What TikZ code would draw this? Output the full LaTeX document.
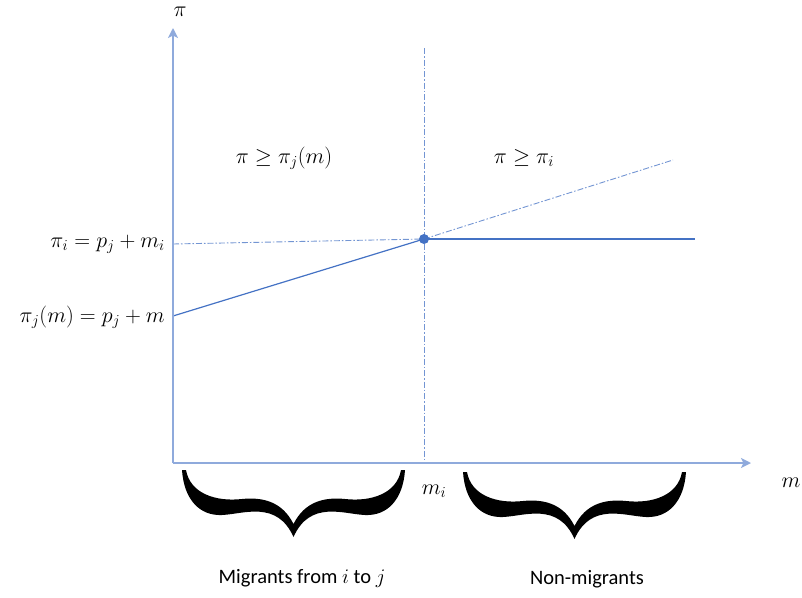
\documentclass[tikz,border=0pt]{standalone}
\usepackage{fontspec}
\setmainfont{Carlito}
\usetikzlibrary{arrows.meta}
\definecolor{axisblue}{HTML}{8FAADC}
\definecolor{lineblue}{HTML}{4472C4}
\tikzset{
  axisline/.style={draw=axisblue, line width=1.8pt, -{Stealth[length=10pt,width=10pt,inset=2.5pt]}},
  solidline/.style={draw=lineblue, line width=1.2pt},
  dashdotline/.style={draw=lineblue!75, line width=0.9pt, dash pattern=on 6pt off 2pt on 1.5pt off 2pt},
  dotnode/.style={circle, fill=lineblue, inner sep=0pt, minimum size=10pt},
  mathlab/.style={font=\fontsize{20.74}{24}\selectfont, inner sep=1pt, scale=1.06, transform shape},
  textlab/.style={font=\fontsize{20.5}{24}\selectfont, inner sep=1pt},
  bracepic/.pic={
    \fill[black] (0,0) .. controls (2,30) and (18,46) .. (40,45)
      .. controls (62,44) and (95,30) .. (111.5,67)
      .. controls (128,30) and (161,44) .. (183,45)
      .. controls (205,46) and (221,30) .. (223,0)
      -- (219,0)
      .. controls (215,23) and (190,32) .. (163,29)
      .. controls (143,27) and (123,31) .. (111.5,54)
      .. controls (100,31) and (80,27) .. (60,29)
      .. controls (33,32) and (8,23) .. (4,0) -- cycle;
  }
}
\begin{document}
\begin{tikzpicture}[x=1pt, y=-1pt]
\useasboundingbox (0,0) rectangle (802,597);
% coordinates
\coordinate (O) at (173,463);
\coordinate (ytop) at (173,28);
\coordinate (xend) at (751,463);
\coordinate (vtop) at (424,48);
\coordinate (vbot) at (424,463);
\coordinate (Ec) at (424,239);
\coordinate (A) at (173,316);
\coordinate (B) at (173,244);
\coordinate (C) at (695,239);
\coordinate (D) at (673,160);
% lines
\draw[dashdotline] (vtop) -- (vbot);
\draw[dashdotline] (B) -- (Ec);
\draw[dashdotline] (Ec) -- (D);
\draw[solidline] (A) -- (Ec);
\draw[solidline] (Ec) -- (C);
\draw[axisline] (O) -- (ytop);
\draw[axisline] (O) -- (xend);
\node[dotnode] (E) at (Ec) {};
% labels
\node[mathlab] (ylab) at (180,12) {$\pi$};
\node[mathlab] (xlab) at (791,483) {$m$};
\node[mathlab] (mi) at (434,491) {$m_i$};
\node[mathlab, anchor=east] (lpi) at (166,244) {$\pi_i = p_j + m_i$};
\node[mathlab, anchor=east] (lpj) at (166,317) {$\pi_j(m) = p_j + m$};
\node[mathlab] (r1) at (284,158) {$\pi \ge \pi_j(m)$};
\node[mathlab] (r2) at (524,158) {$\pi \ge \pi_i$};
\node[textlab] (t1) at (302,578) {Migrants from $i$ to $j$};
\node[textlab] (t2) at (587,579) {Non-migrants};
% braces
\pic at (182,470) {bracepic};
\pic at (463,472) {bracepic};
\end{tikzpicture}
\end{document}
